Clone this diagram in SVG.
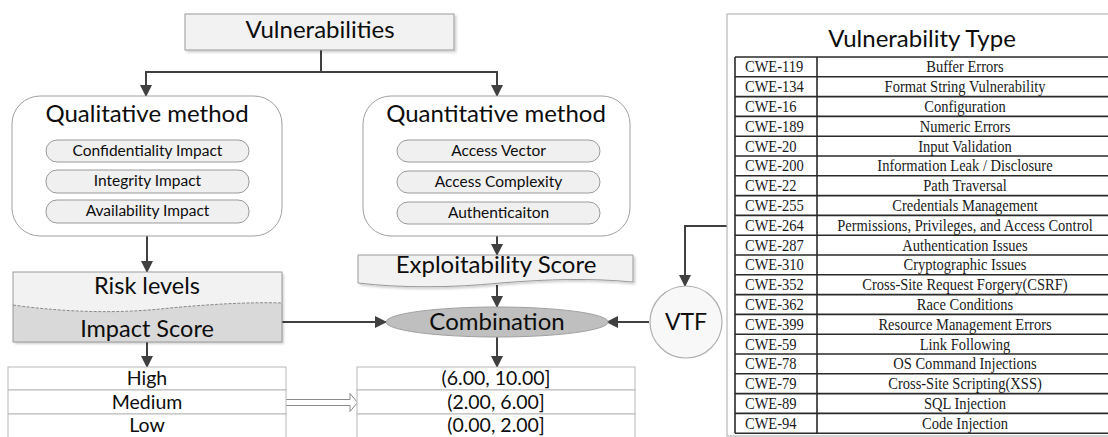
<svg xmlns="http://www.w3.org/2000/svg" width="1108" height="437" viewBox="0 0 1108 437">
  <style>
    .sans { font-family: Lato, "Open Sans", "Liberation Sans", sans-serif; fill: #0d0d0d; text-anchor: middle; }
    .serif { font-family: "Liberation Serif", "Times New Roman", serif; fill: #1a1a1a; font-size: 16.5px; }
    .box { fill: #f2f2f2; stroke: #9a9a9a; stroke-width: 1; }
    .panel { fill: #ffffff; stroke: #a0a0a0; stroke-width: 1; }
    .pill { fill: #f0f0f0; stroke: #9a9a9a; stroke-width: 1; }
    .cell { fill: #ffffff; stroke: #b8b8b8; stroke-width: 1; }
    .wire { fill: none; stroke: #404040; stroke-width: 2; }
    .grid { stroke: #2a2a2a; stroke-width: 1.6; }
  </style>
  <defs>
    <marker id="arrow" viewBox="0 0 12 12" refX="11" refY="6" markerWidth="12" markerHeight="12" markerUnits="userSpaceOnUse" orient="auto">
      <path d="M0,0 L12,6 L0,12 Z" fill="#404040"/>
    </marker>
    <filter id="shadow" x="-5%" y="-10%" width="115%" height="130%">
      <feDropShadow dx="2" dy="2" stdDeviation="1.2" flood-color="#000" flood-opacity="0.18"/>
    </filter>
  </defs>

  <rect width="1108" height="437" fill="#ffffff"/>

  <!-- connectors -->
  <g id="connectors">
    <path class="wire" d="M321,50 V72 H146 V96" marker-end="url(#arrow)"/>
    <path class="wire" d="M321,72 H497 V96" marker-end="url(#arrow)"/>
    <path class="wire" d="M147,236 V272" marker-end="url(#arrow)"/>
    <path class="wire" d="M497,236 V255" marker-end="url(#arrow)"/>
    <path class="wire" d="M497,285 V307" marker-end="url(#arrow)"/>
    <path class="wire" d="M147,342 V367" marker-end="url(#arrow)"/>
    <path class="wire" d="M282,322 H386" marker-end="url(#arrow)"/>
    <path class="wire" d="M649,322 H607" marker-end="url(#arrow)"/>
    <path class="wire" d="M497,337 V367" marker-end="url(#arrow)"/>
    <path class="wire" d="M729,226 H685 V286" marker-end="url(#arrow)" stroke-width="1.6"/>
    <!-- hollow block arrow between the two level tables -->
    <path d="M286,399.5 H350 V393.5 L357.5,402.5 L350,411.5 V405.5 H286" fill="#ffffff" stroke="#8a8a8a" stroke-width="1"/>
  </g>

  <!-- top node -->
  <g id="vulnerabilities">
    <rect class="box" x="185" y="14" width="269" height="36" filter="url(#shadow)"/>
    <text class="sans" x="320" y="38" font-size="24">Vulnerabilities</text>
  </g>

  <!-- qualitative method -->
  <g id="qualitative">
    <rect class="panel" x="12" y="96" width="270" height="140" rx="28"/>
    <text class="sans" x="147" y="122" font-size="24">Qualitative method</text>
    <rect class="pill" x="46" y="140" width="203" height="22" rx="11"/>
    <text class="sans" x="147.5" y="156" font-size="15.5">Confidentiality Impact</text>
    <rect class="pill" x="46" y="170" width="203" height="23" rx="11"/>
    <text class="sans" x="147.5" y="186" font-size="15.5">Integrity Impact</text>
    <rect class="pill" x="46" y="200" width="203" height="23" rx="11"/>
    <text class="sans" x="147.5" y="216" font-size="15.5">Availability Impact</text>
  </g>

  <!-- quantitative method -->
  <g id="quantitative">
    <rect class="panel" x="363" y="96" width="267" height="140" rx="28"/>
    <text class="sans" x="496" y="122" font-size="24">Quantitative method</text>
    <rect class="pill" x="397" y="140" width="203" height="22" rx="11"/>
    <text class="sans" x="498.5" y="156" font-size="15.5">Access Vector</text>
    <rect class="pill" x="397" y="171" width="203" height="22" rx="11"/>
    <text class="sans" x="498.5" y="187" font-size="15.5">Access Complexity</text>
    <rect class="pill" x="397" y="202" width="203" height="22" rx="11"/>
    <text class="sans" x="498.5" y="218" font-size="15.5">Authenticaiton</text>
  </g>

  <!-- risk levels / impact score -->
  <g id="risk-levels">
    <rect x="13" y="272" width="269" height="70" fill="#f2f2f2" filter="url(#shadow)"/>
    <path d="M13,305 C70,313 120,313 160,309 C210,304 250,302 282,303 V342 H13 Z" fill="#d9d9d9"/>
    <path d="M13,305 C70,313 120,313 160,309 C210,304 250,302 282,303" fill="none" stroke="#8a8a8a" stroke-width="1" stroke-dasharray="3,1.5"/>
    <rect x="13" y="272" width="269" height="70" fill="none" stroke="#9a9a9a" stroke-width="1"/>
    <text class="sans" x="147" y="294" font-size="23.5">Risk levels</text>
    <text class="sans" x="147" y="337" font-size="23.5">Impact Score</text>
  </g>

  <!-- exploitability score -->
  <g id="exploitability">
    <path d="M358,255 H633 V282 C590,278 550,279 500,283 C450,288 400,288 358,283 Z" fill="#f2f2f2" stroke="#9a9a9a" stroke-width="1" filter="url(#shadow)"/>
    <text class="sans" x="496" y="273" font-size="24">Exploitability Score</text>
  </g>

  <!-- combination -->
  <g id="combination">
    <ellipse cx="497" cy="322" rx="111" ry="15" fill="#bfbfbf" stroke="#a0a0a0" stroke-width="1"/>
    <text class="sans" x="497" y="330" font-size="24">Combination</text>
  </g>

  <!-- VTF -->
  <g id="vtf">
    <circle cx="686" cy="322" r="36" fill="#f8f8f8" stroke="#b0b0b0" stroke-width="1.2"/>
    <text class="sans" x="686" y="330" font-size="23">VTF</text>
  </g>

  <!-- risk level table -->
  <g id="levels">
    <rect class="cell" x="8" y="367" width="278" height="23"/>
    <rect class="cell" x="8" y="390" width="278" height="24"/>
    <rect class="cell" x="8" y="414" width="278" height="24"/>
    <text class="sans" x="147" y="385" font-size="19.5">High</text>
    <text class="sans" x="147" y="409" font-size="19.5">Medium</text>
    <text class="sans" x="147" y="432" font-size="19.5">Low</text>
  </g>

  <!-- score interval table -->
  <g id="intervals">
    <rect class="cell" x="357" y="367" width="278" height="23"/>
    <rect class="cell" x="357" y="390" width="278" height="24"/>
    <rect class="cell" x="357" y="414" width="278" height="24"/>
    <text class="sans" x="496" y="385" font-size="19.5">(6.00, 10.00]</text>
    <text class="sans" x="496" y="409" font-size="19.5">(2.00, 6.00]</text>
    <text class="sans" x="496" y="432" font-size="19.5">(0.00, 2.00]</text>
  </g>

  <!-- vulnerability type table -->
  <g id="vulnerability-type">
    <rect x="727" y="14" width="390" height="422" fill="#ffffff" stroke="#b8b8b8" stroke-width="1.2"/>
    <text class="sans" x="922" y="47" font-size="24">Vulnerability Type</text>
    <g class="grid">
      <line x1="735" y1="57" x2="1115" y2="57"/>
      <line x1="735" y1="76.8" x2="1115" y2="76.8"/>
      <line x1="735" y1="96.6" x2="1115" y2="96.6"/>
      <line x1="735" y1="116.4" x2="1115" y2="116.4"/>
      <line x1="735" y1="136.2" x2="1115" y2="136.2"/>
      <line x1="735" y1="156" x2="1115" y2="156"/>
      <line x1="735" y1="175.8" x2="1115" y2="175.8"/>
      <line x1="735" y1="195.6" x2="1115" y2="195.6"/>
      <line x1="735" y1="215.4" x2="1115" y2="215.4"/>
      <line x1="735" y1="235.2" x2="1115" y2="235.2"/>
      <line x1="735" y1="255" x2="1115" y2="255"/>
      <line x1="735" y1="274.8" x2="1115" y2="274.8"/>
      <line x1="735" y1="294.6" x2="1115" y2="294.6"/>
      <line x1="735" y1="314.4" x2="1115" y2="314.4"/>
      <line x1="735" y1="334.2" x2="1115" y2="334.2"/>
      <line x1="735" y1="354" x2="1115" y2="354"/>
      <line x1="735" y1="373.8" x2="1115" y2="373.8"/>
      <line x1="735" y1="393.6" x2="1115" y2="393.6"/>
      <line x1="735" y1="413.4" x2="1115" y2="413.4"/>
      <line x1="735" y1="433.2" x2="1115" y2="433.2"/>
      <line x1="735" y1="57" x2="735" y2="433.2"/>
      <line x1="817" y1="57" x2="817" y2="433.2"/>
    </g>
    <!-- CWE ids, set in a narrowed serif -->
    <g class="serif" transform="translate(745,0) scale(0.88,1)">
      <text x="0" y="72.5">CWE-119</text>
      <text x="0" y="92.3">CWE-134</text>
      <text x="0" y="112.1">CWE-16</text>
      <text x="0" y="131.9">CWE-189</text>
      <text x="0" y="151.7">CWE-20</text>
      <text x="0" y="171.5">CWE-200</text>
      <text x="0" y="191.3">CWE-22</text>
      <text x="0" y="211.1">CWE-255</text>
      <text x="0" y="230.9">CWE-264</text>
      <text x="0" y="250.7">CWE-287</text>
      <text x="0" y="270.5">CWE-310</text>
      <text x="0" y="290.3">CWE-352</text>
      <text x="0" y="310.1">CWE-362</text>
      <text x="0" y="329.9">CWE-399</text>
      <text x="0" y="349.7">CWE-59</text>
      <text x="0" y="369.5">CWE-78</text>
      <text x="0" y="389.3">CWE-79</text>
      <text x="0" y="409.1">CWE-89</text>
      <text x="0" y="428.9">CWE-94</text>
    </g>
    <!-- weakness names -->
    <g class="serif" text-anchor="middle" transform="translate(965,0) scale(0.88,1)">
      <text x="0" y="72.5">Buffer Errors</text>
      <text x="0" y="92.3">Format String Vulnerability</text>
      <text x="0" y="112.1">Configuration</text>
      <text x="0" y="131.9">Numeric Errors</text>
      <text x="0" y="151.7">Input Validation</text>
      <text x="0" y="171.5">Information Leak / Disclosure</text>
      <text x="0" y="191.3">Path Traversal</text>
      <text x="0" y="211.1">Credentials Management</text>
      <text x="0" y="230.9">Permissions, Privileges, and Access Control</text>
      <text x="0" y="250.7">Authentication Issues</text>
      <text x="0" y="270.5">Cryptographic Issues</text>
      <text x="0" y="290.3">Cross-Site Request Forgery(CSRF)</text>
      <text x="0" y="310.1">Race Conditions</text>
      <text x="0" y="329.9">Resource Management Errors</text>
      <text x="0" y="349.7">Link Following</text>
      <text x="0" y="369.5">OS Command Injections</text>
      <text x="0" y="389.3">Cross-Site Scripting(XSS)</text>
      <text x="0" y="409.1">SQL Injection</text>
      <text x="0" y="428.9">Code Injection</text>
    </g>
  </g>
</svg>
